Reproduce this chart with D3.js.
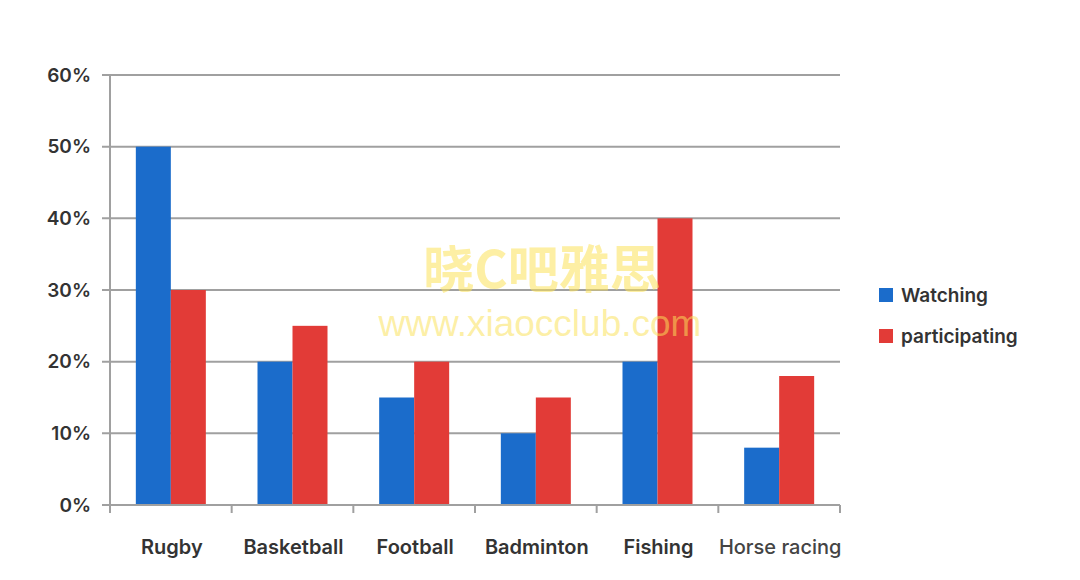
<!DOCTYPE html>
<html><head><meta charset="utf-8">
<script src="https://cdn.jsdelivr.net/npm/d3@7"></script>
<style>body{margin:0;background:#fff}svg{display:block}</style>
</head><body>
<svg id="c" width="1080" height="580"></svg>
<script>
const categories = ["Rugby","Basketball","Football","Badminton","Fishing","Horse racing"];
const watching = [50,20,15,10,20,8];
const participating = [30,25,20,15,40,18];
const yTicks = [0,10,20,30,40,50,60];
const seriesNames = ["Watching","participating"];
const colors = ["#1b6ccb","#e23b37"];

(function(){
const svg = d3.select("#c");
const pL = 110, pR = 840, pT = 75, pB = 505;
const x = d3.scaleBand().domain(categories).range([pL,pR]).paddingInner(0).paddingOuter(0);
const y = d3.scaleLinear().domain([0,60]).range([pB,pT]);
const barW = 35;

svg.append("g").selectAll("line").data(yTicks.filter(d=>d>0)).join("line")
  .attr("x1",102).attr("x2",pR).attr("y1",d=>y(d)).attr("y2",d=>y(d))
  .attr("stroke","#a0a0a0").attr("stroke-width",2);

svg.append("g").selectAll("text").data(yTicks).join("text")
  .attr("x",91).attr("y",d=>y(d)).attr("dy","0.35em").attr("text-anchor","end")
  .attr("font-family","Inter, 'Open Sans', sans-serif").attr("font-weight",600)
  .attr("font-size",19).attr("fill","#333").text(d=>d+"%");

const g = svg.append("g");
categories.forEach((c,i)=>{
  const cx = x(c) + x.bandwidth()/2;
  [watching[i],participating[i]].forEach((v,j)=>{
    g.append("rect").attr("x",cx - barW + j*barW).attr("width",barW)
      .attr("y",y(v)).attr("height",y(0)-y(v)).attr("fill",colors[j]);
  });
});

svg.append("line").attr("x1",pL).attr("x2",pL).attr("y1",pT).attr("y2",pB+8)
  .attr("stroke","#a0a0a0").attr("stroke-width",2);
svg.append("line").attr("x1",102).attr("x2",pR).attr("y1",pB).attr("y2",pB)
  .attr("stroke","#a0a0a0").attr("stroke-width",2);
const bounds = categories.map(c=>x(c)).concat([pR]);
svg.append("g").selectAll("line").data(bounds.slice(1)).join("line")
  .attr("x1",d=>d).attr("x2",d=>d).attr("y1",pB).attr("y2",pB+8)
  .attr("stroke","#a0a0a0").attr("stroke-width",2);

svg.append("g").selectAll("text").data(categories).join("text")
  .attr("x",d=>x(d)+x.bandwidth()/2+1).attr("y",547).attr("dy","0.35em").attr("text-anchor","middle")
  .attr("font-family","Inter, 'Open Sans', sans-serif").attr("font-weight",d=>d==="Horse racing"?500:600)
  .attr("font-size",20).attr("fill",d=>d==="Horse racing"?"#444":"#333").text(d=>d);

const leg = svg.append("g");
seriesNames.forEach((n,i)=>{
  const yy = 295 + i*41;
  leg.append("rect").attr("x",879).attr("y",yy-7).attr("width",14).attr("height",14).attr("fill",colors[i]);
  leg.append("text").attr("x",901).attr("y",yy).attr("dy","0.35em")
    .attr("font-family","Inter, 'Open Sans', sans-serif").attr("font-weight",600)
    .attr("font-size",19).attr("fill","#333").text(n);
});

svg.append("text").attr("x",542).attr("y",270).attr("dy","0.35em").attr("text-anchor","middle")
  .attr("font-family","'Noto Sans CJK SC', sans-serif").attr("font-weight",700)
  .attr("font-size",51).attr("fill","#fbe25a").attr("fill-opacity",0.55).text("晓C吧雅思");
svg.append("text").attr("x",540).attr("y",323).attr("dy","0.35em").attr("text-anchor","middle")
  .attr("font-family","'Liberation Sans', Arial, sans-serif")
  .attr("font-size",37).attr("fill","#fbe25a").attr("fill-opacity",0.55).text("www.xiaocclub.com");
})();
</script>
</body></html>
